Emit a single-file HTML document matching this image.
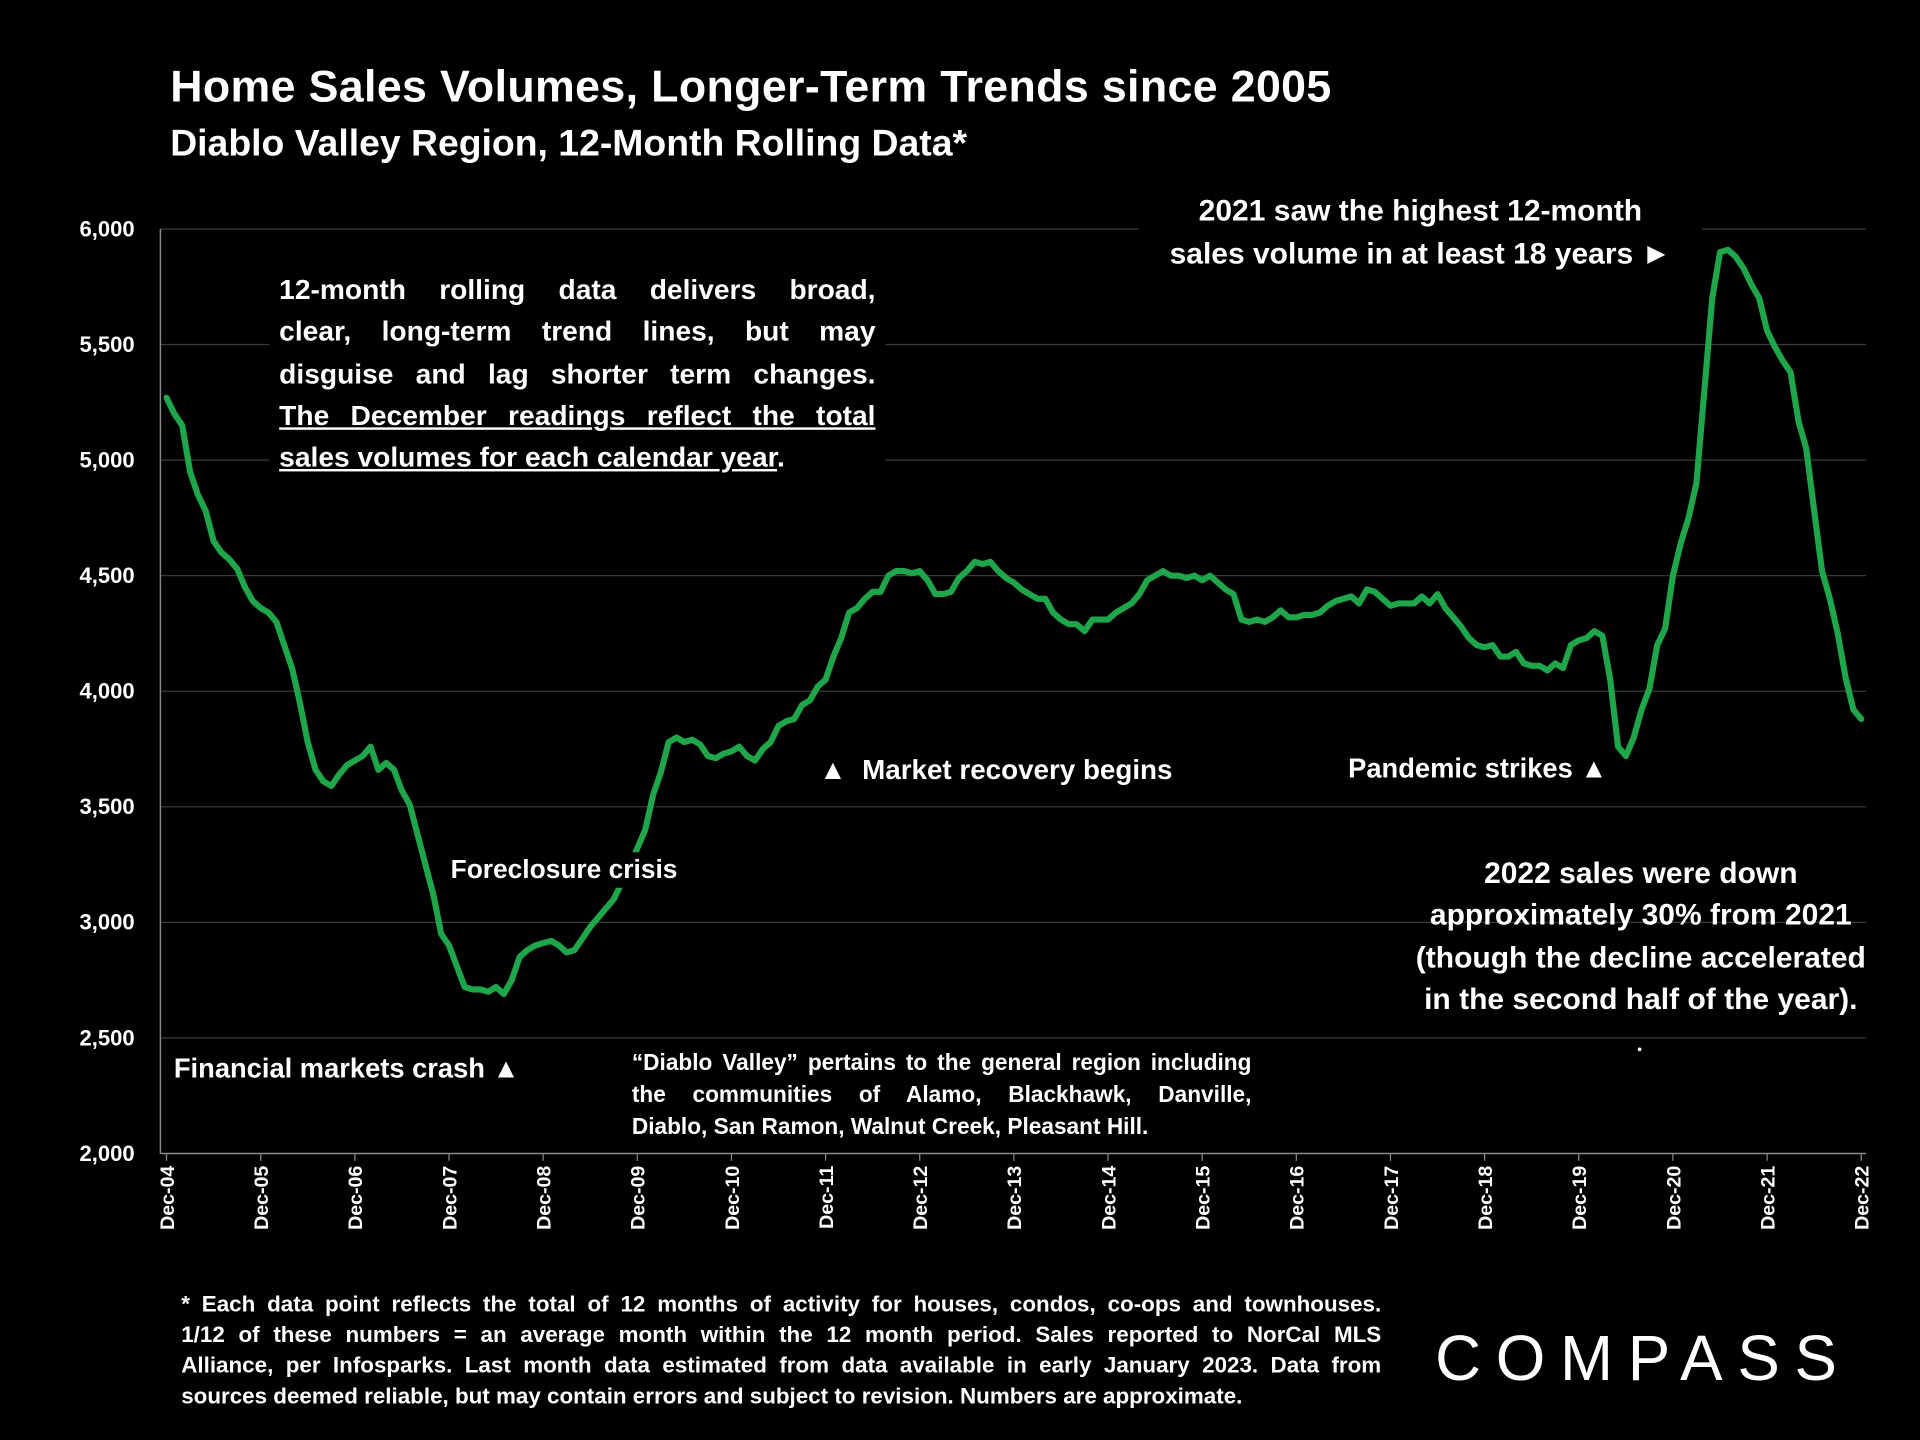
<!DOCTYPE html>
<html><head><meta charset="utf-8">
<style>
html,body{margin:0;padding:0;background:#000;width:1920px;height:1440px;overflow:hidden}
#stage{position:absolute;left:0;top:0;width:1568px;height:1176px;transform:scale(1.22449);transform-origin:0 0;background:#000;font-family:"Liberation Sans",Arial,sans-serif;color:#fff;font-weight:bold}
.t{position:absolute;white-space:nowrap}
.blk{background:#000}
.j div{text-align:justify;text-align-last:justify;white-space:nowrap}
.j div.last{text-align-last:left}
.c div{text-align:center;white-space:nowrap}
</style></head><body>
<div id="stage">
<svg id="chart" width="1568" height="1176" style="position:absolute;left:0;top:0"></svg>

<div class="t" style="left:139px;top:50px;font-size:36.5px;letter-spacing:0.3px">Home Sales Volumes, Longer-Term Trends since 2005</div>
<div class="t" style="left:139px;top:100px;font-size:30.5px">Diablo Valley Region, 12-Month Rolling Data*</div>

<div class="t blk j" style="left:220px;top:219px;width:487px;font-size:23px;line-height:34.3px;padding:0 8px">
<div>12-month rolling data delivers broad,</div>
<div>clear, long-term trend lines, but may</div>
<div>disguise and lag shorter term changes.</div>
<div><u>The December readings reflect the total</u></div>
<div class="last"><u>sales volumes for each calendar year</u>.</div>
</div>

<div class="t blk c" style="left:930px;top:155px;width:460px;font-size:24.5px;line-height:35px">
<div>2021 saw the highest 12-month</div>
<div>sales volume in at least 18 years ►</div>
</div>

<div class="t blk" style="left:362px;top:696px;font-size:21.5px;padding:2px 6px">Foreclosure crisis</div>
<div class="t" style="left:669px;top:615px;font-size:22.7px">▲&nbsp; Market recovery begins</div>
<div class="t" style="left:1101px;top:615px;font-size:22.3px">Pandemic strikes ▲</div>
<div class="t" style="left:142px;top:860px;font-size:22.3px">Financial markets crash ▲</div>

<div class="t c" style="left:1140px;top:697px;width:400px;font-size:24.5px;line-height:34.3px">
<div>2022 sales were down</div>
<div>approximately 30% from 2021</div>
<div>(though the decline accelerated</div>
<div>in the second half of the year).</div>
</div>

<div class="t blk j" style="left:512px;top:855px;width:506px;font-size:18.5px;line-height:26px;padding:0 4px">
<div>“Diablo Valley” pertains to the general region including</div>
<div>the communities of Alamo, Blackhawk, Danville,</div>
<div class="last">Diablo, San Ramon, Walnut Creek, Pleasant Hill.</div>
</div>

<div class="t j" style="left:148px;top:1052px;width:980px;font-size:18.3px;line-height:25px">
<div>* Each data point reflects the total of 12 months of activity for houses, condos, co-ops and townhouses.</div>
<div>1/12 of these numbers = an average month within the 12 month period. Sales reported to NorCal MLS</div>
<div>Alliance, per Infosparks. Last month data estimated from data available in early January 2023. Data from</div>
<div class="last">sources deemed reliable, but may contain errors and subject to revision. Numbers are approximate.</div>
</div>

<div class="t" style="left:1172px;top:1080px;font-size:52px;font-weight:normal;letter-spacing:12px">COMPASS</div>
</div>

<script>
const yTicks=[2000,2500,3000,3500,4000,4500,5000,5500,6000];
const xLabels=["Dec-04","Dec-05","Dec-06","Dec-07","Dec-08","Dec-09","Dec-10","Dec-11","Dec-12","Dec-13","Dec-14","Dec-15","Dec-16","Dec-17","Dec-18","Dec-19","Dec-20","Dec-21","Dec-22"];
const sales2004=[5270];
const sales2005=[5200,5150,4950,4850,4780,4650,4600,4570,4530,4450,4390,4360];
const sales2006=[4340,4300,4200,4100,3950,3780,3660,3610,3590,3640,3680,3700];
const sales2007=[3720,3760,3660,3690,3660,3570,3510,3380,3250,3120,2950,2900];
const sales2008=[2810,2720,2710,2710,2700,2720,2690,2750,2850,2880,2900,2910];
const sales2009=[2920,2900,2870,2880,2930,2980,3020,3060,3100,3170,3240,3320];
const sales2010=[3400,3550,3650,3780,3800,3780,3790,3770,3720,3710,3730,3740];
const sales2011=[3760,3720,3700,3750,3780,3850,3870,3880,3940,3960,4020,4050];
const sales2012=[4150,4230,4340,4360,4400,4430,4430,4500,4520,4520,4510,4520];
const sales2013=[4480,4420,4420,4430,4490,4520,4560,4550,4560,4520,4490,4470];
const sales2014=[4440,4420,4400,4400,4340,4310,4290,4290,4260,4310,4310,4310];
const sales2015=[4340,4360,4380,4420,4480,4500,4520,4500,4500,4490,4500,4480];
const sales2016=[4500,4470,4440,4420,4310,4300,4310,4300,4320,4350,4320,4320];
const sales2017=[4330,4330,4340,4370,4390,4400,4410,4380,4440,4430,4400,4370];
const sales2018=[4380,4380,4380,4410,4380,4420,4360,4320,4280,4230,4200,4190];
const sales2019=[4200,4150,4150,4170,4120,4110,4110,4090,4120,4100,4200,4220];
const sales2020=[4230,4260,4240,4050,3760,3720,3800,3920,4010,4200,4270,4500];
const sales2021=[4640,4750,4900,5300,5700,5900,5910,5880,5830,5760,5700,5560];
const sales2022=[5490,5430,5380,5170,5050,4780,4520,4400,4250,4060,3920,3880];
const sales=[].concat(sales2004,sales2005,sales2006,sales2007,sales2008,sales2009,sales2010,sales2011,sales2012,sales2013,sales2014,sales2015,sales2016,sales2017,sales2018,sales2019,sales2020,sales2021,sales2022);

const NS="http://www.w3.org/2000/svg";
const svg=document.getElementById('chart');
const X0=136,X1=1520,Y0=942,Y1=187,YMIN=2000,YMAX=6000;
const xs=i=>X0+(X1-X0)*i/(sales.length-1);
const ys=v=>Y0-(v-YMIN)/(YMAX-YMIN)*(Y0-Y1);
function mk(tag,attrs){const e=document.createElementNS(NS,tag);for(const k in attrs)e.setAttribute(k,attrs[k]);svg.appendChild(e);return e;}

yTicks.forEach(v=>{
  const g=mk('line',{x1:131,x2:1524,y1:ys(v),y2:ys(v),stroke:'#3a3a3a','stroke-width':1});
  
  
  const t=mk('text',{x:110,y:ys(v)+6,'text-anchor':'end',fill:'#fff','font-size':18,'font-weight':'bold','font-family':'Liberation Sans, sans-serif'});
  t.textContent=v.toLocaleString('en-US');
  
  
});
const ax=mk('line',{x1:131,x2:131,y1:187,y2:942,stroke:'#888','stroke-width':1.2});


const bx=mk('line',{x1:131,x2:1524,y1:942,y2:942,stroke:'#888','stroke-width':1.2});



xLabels.forEach((lab,k)=>{
  const x=xs(k*12);
  const tk=mk('line',{x1:x,x2:x,y1:942,y2:948,stroke:'#888','stroke-width':1});
  
  
  const t=mk('text',{transform:`translate(${x+6},${952}) rotate(-90)`,'text-anchor':'end',fill:'#fff','font-size':16,'font-weight':'bold','font-family':'Liberation Sans, sans-serif'});
  t.textContent=lab;
  
  
});

const d=sales.map((v,i)=>(i?'L':'M')+xs(i).toFixed(1)+','+ys(v).toFixed(1)).join(' ');
const p=mk('path',{d:d,fill:'none',stroke:'#1fa64a','stroke-width':5,'stroke-linejoin':'round','stroke-linecap':'round'});


const dot=mk('circle',{cx:1339,cy:857,r:1.5,fill:'#fff'});


</script>
</body></html>
